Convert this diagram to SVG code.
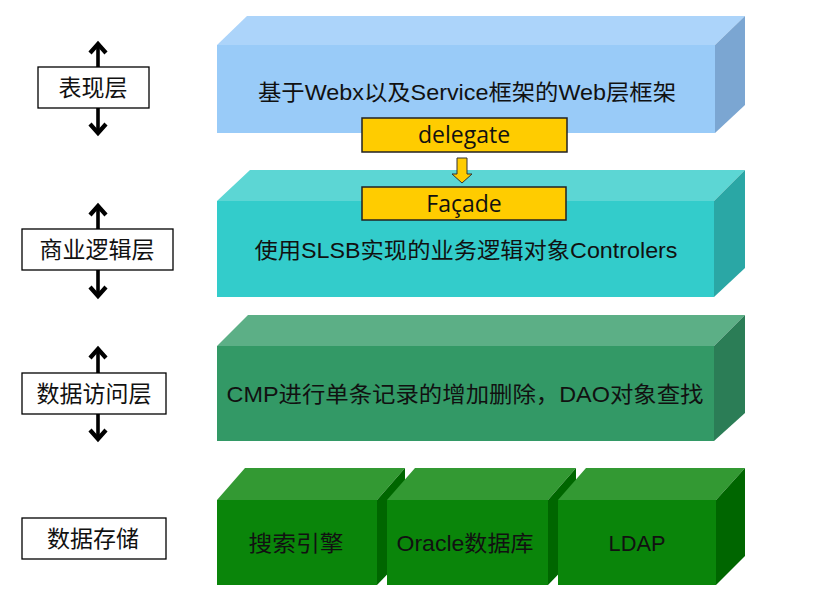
<svg xmlns="http://www.w3.org/2000/svg" width="816" height="594" viewBox="0 0 816 594">
<style>
.lbl{fill:#fff;stroke:#000;stroke-width:1.3}
.lt{font-family:"Noto Sans CJK SC","Noto Sans",sans-serif;font-size:23px;fill:#111;text-anchor:middle}
.bt{font-family:"Liberation Sans","Noto Sans CJK SC",sans-serif;font-size:22px;fill:#111;text-anchor:middle}
.yt{font-family:"Open Sans","Noto Sans",sans-serif;font-size:23px;fill:#111;text-anchor:middle}
.ybox{fill:#ffcc00;stroke:#222;stroke-width:1.5}
.arr{stroke:#000;stroke-width:3.6;fill:none}
.head{stroke:#000;stroke-width:4.2;fill:none;stroke-linejoin:miter}
</style>
<rect width="816" height="594" fill="#fff"/>

<g id="layer-web">
<polygon points="217,45 247,16 745,16 715,45" fill="#acd4fa"/>
<polygon points="715,45 745,16 745,105 715,133" fill="#7ba6d2"/>
<rect x="217" y="45" width="498" height="88" fill="#99cbf8"/>
<text class="bt" x="467" y="100" textLength="418" lengthAdjust="spacingAndGlyphs">基于Webx以及Service框架的Web层框架</text>
</g>

<g id="layer-biz">
<polygon points="217,201 250,170 745,170 714,201" fill="#5cd6d4"/>
<polygon points="714,201 745,170 745,268 714,297" fill="#2aa7a5"/>
<rect x="217" y="201" width="497" height="96" fill="#33cccb"/>
<text class="bt" x="466" y="258" textLength="423" lengthAdjust="spacingAndGlyphs">使用SLSB实现的业务逻辑对象Controlers</text>
</g>

<g id="layer-data">
<polygon points="217,346 248,315 745,315 714,346" fill="#5caf86"/>
<polygon points="714,346 745,315 745,413 714,441" fill="#2b7d56"/>
<rect x="217" y="346" width="497" height="95" fill="#339966"/>
<text class="bt" x="465" y="402" textLength="477" lengthAdjust="spacingAndGlyphs">CMP进行单条记录的增加删除，DAO对象查找</text>
</g>

<g id="store-search">
<polygon points="217,500 245,468 405,468 377,500" fill="#339933"/>
<polygon points="377,500 405,468 405,556 377,585" fill="#006600"/>
<rect x="217" y="500" width="160" height="85" fill="#0a850a"/>
<text class="bt" x="296" y="551" textLength="95" lengthAdjust="spacingAndGlyphs">搜索引擎</text>
</g>
<g id="store-oracle">
<polygon points="387,500 415,468 576,468 548,500" fill="#339933"/>
<polygon points="548,500 576,468 576,556 548,585" fill="#006600"/>
<rect x="387" y="500" width="161" height="85" fill="#0a850a"/>
<text class="bt" x="465" y="551" textLength="137" lengthAdjust="spacingAndGlyphs">Oracle数据库</text>
</g>
<g id="store-ldap">
<polygon points="558,500 586,468 745,468 716,500" fill="#339933"/>
<polygon points="716,500 745,468 745,556 716,585" fill="#006600"/>
<rect x="558" y="500" width="158" height="85" fill="#0a850a"/>
<text class="bt" x="637" y="551" textLength="57" lengthAdjust="spacingAndGlyphs">LDAP</text>
</g>

<g id="delegate">
<rect class="ybox" x="362" y="118" width="205" height="34"/>
<text class="yt" x="464" y="143">delegate</text>
</g>
<g id="facade">
<rect class="ybox" x="362" y="187" width="204" height="33"/>
<text class="yt" x="464" y="212">Façade</text>
</g>

<g id="label-web">
<rect class="lbl" x="38" y="67" width="111" height="41"/>
<text class="lt" x="93" y="96">表现层</text>
</g>
<g id="label-biz">
<rect class="lbl" x="22" y="229" width="151" height="41"/>
<text class="lt" x="97" y="258">商业逻辑层</text>
</g>
<g id="label-data">
<rect class="lbl" x="22" y="373" width="144" height="41"/>
<text class="lt" x="94" y="402">数据访问层</text>
</g>
<g id="label-store">
<rect class="lbl" x="22" y="518" width="144" height="41"/>
<text class="lt" x="93" y="547">数据存储</text>
</g>

<g id="connectors">
<polygon points="457,158 467,158 467,174 472,174 462,183 452,174 457,174" fill="#ffcc00" stroke="#333" stroke-width="1"/>
<line class="arr" x1="98" y1="46" x2="98" y2="67"/>
<polyline class="head" points="90,53 98,44 106,53"/>
<line class="arr" x1="98" y1="108" x2="98" y2="131"/>
<polyline class="head" points="90,124 98,133 106,124"/>
<line class="arr" x1="98" y1="208" x2="98" y2="229"/>
<polyline class="head" points="90,215 98,206 106,215"/>
<line class="arr" x1="98" y1="270" x2="98" y2="294"/>
<polyline class="head" points="90,287 98,296 106,287"/>
<line class="arr" x1="98" y1="351" x2="98" y2="373"/>
<polyline class="head" points="90,358 98,349 106,358"/>
<line class="arr" x1="98" y1="414" x2="98" y2="437"/>
<polyline class="head" points="90,430 98,439 106,430"/>
</g>
</svg>
